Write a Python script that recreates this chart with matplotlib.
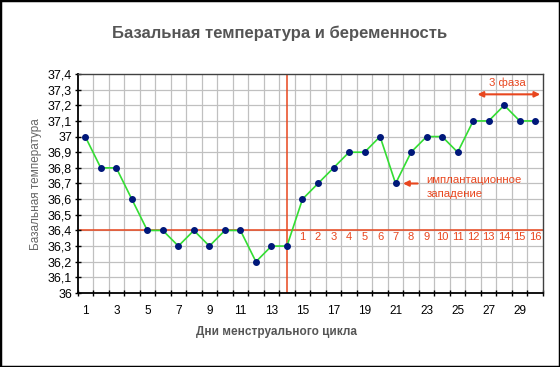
import matplotlib
matplotlib.use("Agg")
import matplotlib.pyplot as plt
from matplotlib.patches import Rectangle

days = list(range(1, 31))
temps = [37.0, 36.8, 36.8, 36.6, 36.4, 36.4, 36.3, 36.4, 36.3, 36.4,
         36.4, 36.2, 36.3, 36.3, 36.6, 36.7, 36.8, 36.9, 36.9, 37.0,
         36.7, 36.9, 37.0, 37.0, 36.9, 37.1, 37.1, 37.2, 37.1, 37.1]
y_ticks = [36.0 + 0.1 * i for i in range(15)]
y_labels = ["36", "36,1", "36,2", "36,3", "36,4", "36,5", "36,6", "36,7",
            "36,8", "36,9", "37", "37,1", "37,2", "37,3", "37,4"]
x_labels = [str(d) for d in range(1, 30, 2)]
phase_days = list(range(15, 31))
phase_labels = [str(i) for i in range(1, 17)]
ovulation_day = 14
cover_line = 36.4

plt.rcParams['font.family'] = ['Liberation Sans', 'DejaVu Sans']

fig = plt.figure(figsize=(5.6, 3.67), dpi=100)
fig.patch.set_facecolor('white')
fig.add_artist(Rectangle((0, 0), 1, 1, transform=fig.transFigure, fill=False,
                         edgecolor='black', linewidth=2.5))
ax = fig.add_axes([77.5 / 560, 1 - 293 / 367, (543 - 77.5) / 560, (293 - 74) / 367])

ax.set_xlim(0.5, 30.5)
ax.set_ylim(36.0, 37.4)

# grid
for b in range(1, 30):
    ax.axvline(b + 0.5, color='#c0c0c0', lw=0.9, zorder=0)
for t in y_ticks[1:-1]:
    ax.axhline(t, color='#c0c0c0', lw=0.9, zorder=0)

red = '#e8461e'
ax.axhline(cover_line, color=red, lw=1.1, zorder=1)
ax.axvline(ovulation_day, color=red, lw=1.1, zorder=1)

ax.plot(days, temps, color='#33dd33', lw=1.2, zorder=3)
ax.plot(days, temps, 'o', color='#00187a', markersize=4.0, zorder=4)

for d, lab in zip(phase_days, phase_labels):
    ax.text(d, 36.355, lab, color=red, fontsize=8, ha='center', va='center')

ax.annotate('', xy=(21.3, 36.7), xytext=(22.6, 36.7),
            arrowprops=dict(arrowstyle='-|>', color=red, lw=1.5, mutation_scale=8))
ax.text(23.0, 36.72, 'имплантационное', color=red, fontsize=8.2, ha='left', va='center')
ax.text(23.0, 36.635, 'западение', color=red, fontsize=8.2, ha='left', va='center')

ax.annotate('', xy=(26.1, 37.27), xytext=(30.5, 37.27),
            arrowprops=dict(arrowstyle='<|-|>', color=red, lw=1.5, mutation_scale=8))
ax.text(28.2, 37.345, '3 фаза', color=red, fontsize=8.2, ha='center', va='center')

ax.set_yticks(y_ticks)
ax.set_yticklabels(y_labels, fontsize=9)
ax.set_xticks(range(1, 30, 2))
ax.set_xticklabels(x_labels, fontsize=8.5)
ax.set_xticks([b + 0.5 for b in range(0, 31)], minor=True)
ax.tick_params(axis='x', which='major', length=0, pad=9)
ax.tick_params(axis='x', which='minor', length=4, direction='inout', width=1)
ax.tick_params(axis='y', which='major', length=4, direction='inout', width=1, pad=2)

for s in ['left', 'bottom']:
    ax.spines[s].set_color('black')
    ax.spines[s].set_linewidth(1.3)
for s in ['top', 'right']:
    ax.spines[s].set_color('#404040')
    ax.spines[s].set_linewidth(1.0)

fig.text(280 / 560, 1 - 33 / 367, 'Базальная температура и беременность',
         ha='center', va='center', fontsize=12, fontweight='bold', color='#555555')
fig.text(277 / 560, 1 - 332 / 367, 'Дни менструального цикла',
         ha='center', va='center', fontsize=8.5, fontweight='bold', color='#555555')
fig.text(36 / 560, 1 - 184 / 367, 'Базальная температура', rotation=90,
         ha='center', va='center', fontsize=8.5, color='#666666')

fig.savefig('out.png', dpi=100)
